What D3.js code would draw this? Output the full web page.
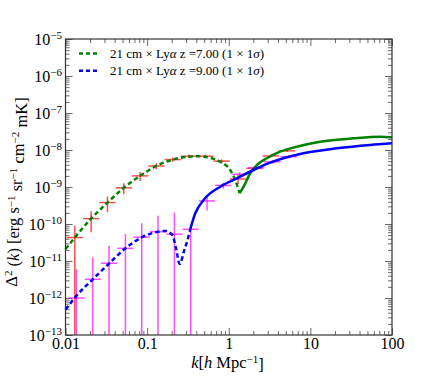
<!DOCTYPE html>
<html>
<head>
<meta charset="utf-8">
<script src="https://cdn.jsdelivr.net/npm/d3@7"></script>
<style>
body { margin: 0; background: #fff; }
text { font-family: "Liberation Serif", "DejaVu Serif", serif; fill: #000; }
</style>
</head>
<body>
<div id="chart"></div>
<script>
// z = 7.00 curve (dashed part, then solid part)
var kDash7 = [0.01, 0.0130, 0.0206, 0.0327, 0.0518, 0.0820, 0.130, 0.206, 0.327, 0.40, 0.492, 0.787, 1.04, 1.20, 1.36];
var vDash7 = [2.1e-11, 4.3e-11, 1.4e-10, 3.8e-10, 9.5e-10, 2.0e-9, 3.7e-9, 5.5e-9, 6.6e-9, 6.8e-9, 6.6e-9, 4.8e-9, 2.9e-9, 1.55e-9, 6.8e-10];
var kSolid7 = [1.36, 1.52, 1.83, 2.21, 2.93, 4.26, 6.82, 13.2, 33.6, 71.3, 100];
var vSolid7 = [6.8e-10, 1.02e-9, 2.33e-9, 3.93e-9, 5.97e-9, 9.0e-9, 1.23e-8, 1.67e-8, 2.07e-8, 2.29e-8, 2.2e-8];

// z = 9.00 curve
var kDash9 = [0.01, 0.0130, 0.0216, 0.0345, 0.0542, 0.0867, 0.138, 0.167, 0.204, 0.228, 0.250, 0.286, 0.320, 0.338];
var vDash9 = [4.8e-13, 1.02e-12, 3.2e-12, 8.7e-12, 2.2e-11, 4.4e-11, 6.2e-11, 6.5e-11, 5.0e-11, 2.0e-11, 8.3e-12, 2.0e-11, 4.5e-11, 7.3e-11];
var kSolid9 = [0.338, 0.389, 0.492, 0.787, 1.26, 2.01, 3.22, 8.22, 21.1, 53.9, 100];
var vSolid9 = [7.3e-11, 1.95e-10, 4.46e-10, 1.02e-9, 1.72e-9, 2.88e-9, 4.54e-9, 8.15e-9, 1.11e-8, 1.37e-8, 1.52e-8];

// error bars, z = 7 (red)
var kErr7 = [0.0130, 0.0206, 0.0327, 0.0518, 0.0820, 0.130, 0.206, 0.327, 0.518, 0.820, 1.30, 2.06, 3.27, 5.18];
var vErr7 = [4.3e-11, 1.4e-10, 3.8e-10, 9.5e-10, 2.0e-9, 3.7e-9, 5.5e-9, 6.8e-9, 6.8e-9, 5.0e-9, 1.65e-9, 3.2e-9, 6.9e-9, 9.5e-9];
var sigLo7 = [4.7e-11, 8e-11, 1.7e-10, 3.1e-10, 5.5e-10, 7e-10, 7e-10, 7e-10, 7e-10, 6e-10, 4.5e-10, 5e-10, 6e-10, 7e-10];
var sigHi7 = [4.7e-11, 8e-11, 1.7e-10, 3.1e-10, 5.5e-10, 7e-10, 7e-10, 7e-10, 7e-10, 6e-10, 4.5e-10, 5e-10, 6e-10, 7e-10];

// error bars, z = 9 (magenta)
var kErr9 = [0.0136, 0.0216, 0.0342, 0.0542, 0.0859, 0.136, 0.216, 0.342, 0.542, 0.859, 1.36, 2.16, 3.42, 5.42];
var vErr9 = [1.0e-12, 3.2e-12, 8.7e-12, 2.2e-11, 4.4e-11, 6.2e-11, 5.3e-11, 7.2e-11, 4.2e-10, 1.1e-9, 2.2e-9, 3.3e-9, 4.8e-9, 6.6e-9];
var sigLo9 = [5e-12, 9.4e-12, 1.7e-11, 3.2e-11, 6.1e-11, 1.04e-10, 1.5e-10, 1e-10, 1.9e-10, 2e-10, 3e-10, 4e-10, 5e-10, 6e-10];
var sigHi9 = [5e-12, 9.4e-12, 1.7e-11, 3.2e-11, 6.1e-11, 1.04e-10, 1.5e-10, 1e-11, 1.7e-10, 2e-10, 3e-10, 4e-10, 5e-10, 6e-10];

var xTickVals = [0.01, 0.1, 1, 10, 100];
var xTickLabels = ["0.01", "0.1", "1", "10", "100"];
var yTickExp = [-13, -12, -11, -10, -9, -8, -7, -6, -5];

var legendLabels = ["7.00", "9.00"];

// set the dimensions and margins of the graph
var margin = {top: 39, right: 44, bottom: 47, left: 65.5},
  width = 436 - margin.left - margin.right,
  height = 382 - margin.top - margin.bottom;

var svgRoot = d3.select("#chart")
  .append("svg")
  .attr("width", 436)
  .attr("height", 382);

var svg = svgRoot.append("g")
  .attr("transform", "translate(" + margin.left + "," + margin.top + ")");

var x = d3.scaleLog().domain([0.01, 100]).range([0, width]);
var y = d3.scaleLog().domain([1e-13, 1e-5]).range([height, 0]);

// minor tick values
var xMinor = [], yMinor = [];
for (var e = -2; e < 2; e++) for (var m = 2; m < 10; m++) xMinor.push(m * Math.pow(10, e));
for (var e = -13; e < -5; e++) for (var m = 2; m < 10; m++) yMinor.push(m * Math.pow(10, e));
var yTickVals = yTickExp.map(function(p) { return Math.pow(10, p); });

var tickColor = "#444";
function styleAxis(g) {
  g.select(".domain").remove();
  g.selectAll(".tick line").attr("stroke", tickColor).attr("stroke-width", 0.8);
}

// bottom
svg.append("g")
  .attr("transform", "translate(0," + height + ")")
  .call(d3.axisBottom(x).tickValues(xTickVals).tickSize(-7).tickPadding(3)
    .tickFormat(function(d, i) { return xTickLabels[i]; }))
  .call(styleAxis)
  .selectAll("text").attr("font-size", "16px");
svg.append("g")
  .attr("transform", "translate(0," + height + ")")
  .call(d3.axisBottom(x).tickValues(xMinor).tickSize(-4).tickFormat(""))
  .call(styleAxis);
// top
svg.append("g")
  .call(d3.axisTop(x).tickValues(xTickVals).tickSize(-7).tickFormat(""))
  .call(styleAxis);
svg.append("g")
  .call(d3.axisTop(x).tickValues(xMinor).tickSize(-4).tickFormat(""))
  .call(styleAxis);
// left
var yAx = svg.append("g")
  .call(d3.axisLeft(y).tickValues(yTickVals).tickSize(-7).tickPadding(3.5).tickFormat(""))
  .call(styleAxis);
yAx.selectAll(".tick text").each(function(d, i) {
  var t = d3.select(this).attr("font-size", "16px").attr("dy", "0.32em");
  t.append("tspan").text("10");
  t.append("tspan").attr("dy", "-0.55em").attr("font-size", "11px").text("\u2212" + (-yTickExp[i]));
});
svg.append("g")
  .call(d3.axisLeft(y).tickValues(yMinor).tickSize(-4).tickFormat(""))
  .call(styleAxis);
// right
svg.append("g")
  .attr("transform", "translate(" + width + ",0)")
  .call(d3.axisRight(y).tickValues(yTickVals).tickSize(-7).tickFormat(""))
  .call(styleAxis);
svg.append("g")
  .attr("transform", "translate(" + width + ",0)")
  .call(d3.axisRight(y).tickValues(yMinor).tickSize(-4).tickFormat(""))
  .call(styleAxis);

// error bars
var halfBin = Math.pow(10, 0.1);
function drawErrors(ks, vs, lo, hi, color) {
  var g = svg.append("g")
    .attr("stroke", color)
    .attr("stroke-opacity", 0.7)
    .attr("stroke-width", 1.5);
  ks.forEach(function(k, i) {
    var low = vs[i] - lo[i];
    var yLow = low > 0 ? Math.min(y(low), height) : height;
    g.append("line")
      .attr("x1", x(k)).attr("x2", x(k))
      .attr("y1", yLow).attr("y2", y(vs[i] + hi[i]));
    g.append("line")
      .attr("x1", x(k / halfBin)).attr("x2", x(k * halfBin))
      .attr("y1", y(vs[i])).attr("y2", y(vs[i]));
  });
}
drawErrors(kErr7, vErr7, sigLo7, sigHi7, "#ff0000");
drawErrors(kErr9, vErr9, sigLo9, sigHi9, "#ff00ff");

// curves
var line = d3.line()
  .x(function(d) { return x(d[0]); })
  .y(function(d) { return y(d[1]); })
  .curve(d3.curveMonotoneX);

function drawCurve(ks, vs, color, dashed) {
  svg.append("path")
    .datum(d3.zip(ks, vs))
    .attr("fill", "none")
    .attr("stroke", color)
    .attr("stroke-width", 2.5)
    .attr("stroke-dasharray", dashed ? "4.5,3" : null)
    .attr("d", line);
}
drawCurve(kDash7, vDash7, "#008000", true);
drawCurve(kSolid7, vSolid7, "#008000", false);
drawCurve(kDash9, vDash9, "#0000ff", true);
drawCurve(kSolid9, vSolid9, "#0000ff", false);

// frame
svg.append("rect")
  .attr("width", width).attr("height", height)
  .attr("fill", "none").attr("stroke", "#333").attr("stroke-width", 1.2);

// legend
var legendColors = ["#008000", "#0000ff"];
legendLabels.forEach(function(z, i) {
  var ly = 14.5 + i * 17.3;
  svg.append("line")
    .attr("x1", 13.5).attr("x2", 31.5).attr("y1", ly).attr("y2", ly)
    .attr("stroke", legendColors[i]).attr("stroke-width", 2.5)
    .attr("stroke-dasharray", "4,3");
  var t = svg.append("text").attr("x", 44.5).attr("y", ly + 4.3).attr("font-size", "13px");
  t.append("tspan").text("21 cm \u00d7 Ly");
  t.append("tspan").attr("font-style", "italic").text("\u03b1");
  t.append("tspan").text(" z =" + z + " (1 \u00d7 1");
  t.append("tspan").attr("font-style", "italic").text("\u03c3");
  t.append("tspan").text(")");
});

// x label
var xl = svgRoot.append("text")
  .attr("x", 227.5).attr("y", 368)
  .attr("text-anchor", "middle").attr("font-size", "16.5px");
xl.append("tspan").attr("font-style", "italic").text("k");
xl.append("tspan").text("[");
xl.append("tspan").attr("font-style", "italic").text("h");
xl.append("tspan").text(" Mpc");
xl.append("tspan").attr("dy", "-0.45em").attr("font-size", "11px").text("\u22121");
xl.append("tspan").attr("dy", "0.45em").text("]");

// y label
var yl = svgRoot.append("text")
  .attr("transform", "translate(17,192) rotate(-90)")
  .attr("text-anchor", "middle").attr("font-size", "16.5px");
yl.append("tspan").text("\u0394");
yl.append("tspan").attr("dy", "-0.45em").attr("font-size", "11px").text("2");
yl.append("tspan").attr("dy", "0.45em").text(" (");
yl.append("tspan").attr("font-style", "italic").text("k");
yl.append("tspan").text(") [erg s");
yl.append("tspan").attr("dy", "-0.45em").attr("font-size", "11px").text("\u22121");
yl.append("tspan").attr("dy", "0.45em").text(" sr");
yl.append("tspan").attr("dy", "-0.45em").attr("font-size", "11px").text("\u22121");
yl.append("tspan").attr("dy", "0.45em").text(" cm");
yl.append("tspan").attr("dy", "-0.45em").attr("font-size", "11px").text("\u22122");
yl.append("tspan").attr("dy", "0.45em").text(" mK]");
</script>
</body>
</html>
